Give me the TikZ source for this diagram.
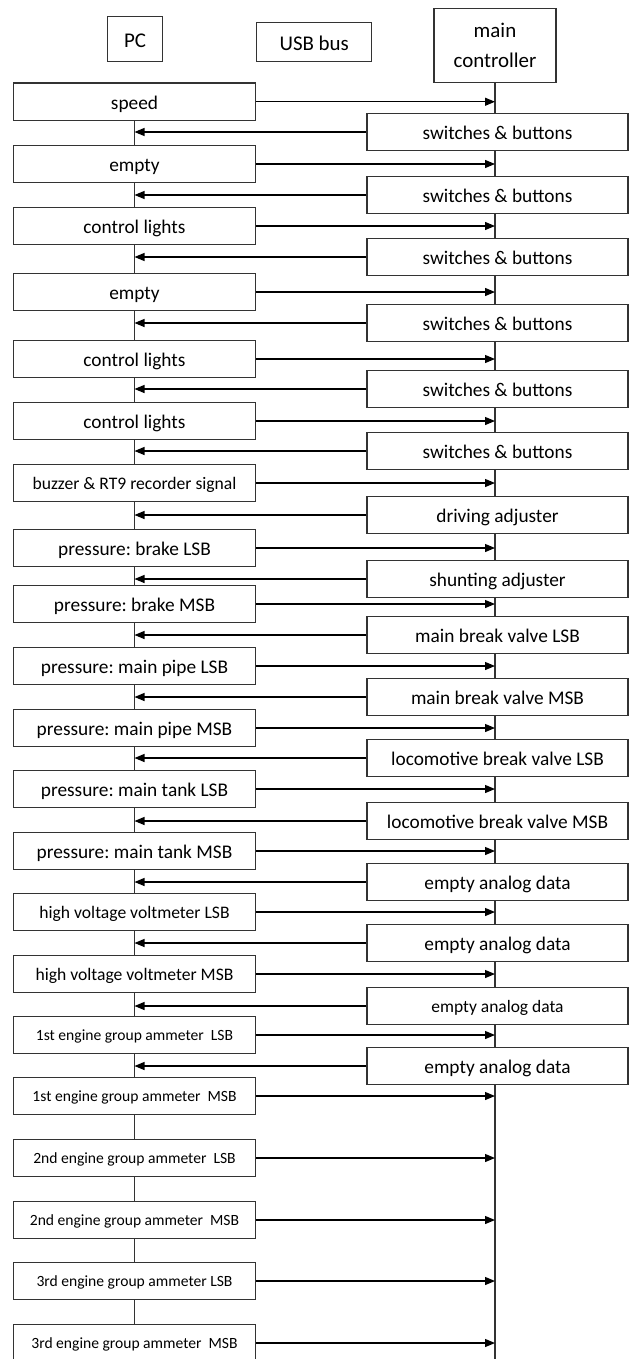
\documentclass[tikz,border=0pt]{standalone}
\usepackage{fontspec}
\setmainfont{Carlito}
\frenchspacing
\usetikzlibrary{arrows.meta,backgrounds}

\begin{document}
\begin{tikzpicture}[x=.75pt,y=-.75pt,
  box/.style={draw=black!80,fill=white,line width=.9pt,inner sep=0pt,
    minimum height=28pt,font=\fontsize{14.5}{16}\selectfont,
    text height=10.9pt,text depth=0pt},
  pcbox/.style={box,minimum width=181.5pt},
  mcbox/.style={box,minimum width=195.75pt},
  smalltext/.style={font=\fontsize{13.2}{15}\selectfont,text height=9.9pt},
  enginetext/.style={font=\fontsize{11.7}{14}\selectfont,text height=8.8pt},
  head/.style={box,font=\fontsize{15.7}{22}\selectfont,align=center,text height=11.8pt},
  msg/.style={-{Triangle[length=7.5pt,width=6pt]},line width=.9pt},
  life/.style={line width=.9pt,draw=black!80}]
\useasboundingbox (0,0) rectangle (629,1359);

% heads
\node[head,minimum width=41.25pt,minimum height=33.75pt] (pc) at (135,39.2) {PC};
\node[head,minimum width=86.25pt,minimum height=29.25pt] (usb) at (314.25,42.2) {USB bus};
\node[head,minimum width=91.5pt,minimum height=55.5pt,text height=,text depth=] (mc) at (495,45.3) {main\\controller};
\coordinate (mcend) at (495,1359);

% PC side
\node[pcbox] (l1) at (134.5,101.75) {speed};
\node[pcbox] (l2) at (134.5,164) {empty};
\node[pcbox] (l3) at (134.5,226) {control lights};
\node[pcbox] (l4) at (134.5,292) {empty};
\node[pcbox] (l5) at (134.5,359) {control lights};
\node[pcbox] (l6) at (134.5,421) {control lights};
\node[pcbox,smalltext] (l7) at (134.5,483) {buzzer \& RT9 recorder signal};
\node[pcbox] (l8) at (134.5,548) {pressure: brake LSB};
\node[pcbox] (l9) at (134.5,604) {pressure: brake MSB};
\node[pcbox] (l10) at (134.5,666) {pressure: main pipe LSB};
\node[pcbox] (l11) at (134.5,728) {pressure: main pipe MSB};
\node[pcbox] (l12) at (134.5,789) {pressure: main tank LSB};
\node[pcbox] (l13) at (134.5,851) {pressure: main tank MSB};
\node[pcbox,smalltext] (l14) at (134.5,912) {high voltage voltmeter LSB};
\node[pcbox,smalltext] (l15) at (134.5,974) {high voltage voltmeter MSB};
\node[pcbox,enginetext] (l16) at (134.5,1035) {1st engine group ammeter\ \ LSB};
\node[pcbox,enginetext] (l17) at (134.5,1096) {1st engine group ammeter\ \ MSB};
\node[pcbox,enginetext] (l18) at (134.5,1158) {2nd engine group ammeter\ \ LSB};
\node[pcbox,enginetext] (l19) at (134.5,1220) {2nd engine group ammeter\ \ MSB};
\node[pcbox,enginetext] (l20) at (134.5,1281) {3rd engine group ammeter LSB};
\node[pcbox,enginetext] (l21) at (134.5,1343) {3rd engine group ammeter\ \ MSB};

% controller side
\node[mcbox] (r1) at (497.5,132) {switches \& buttons};
\node[mcbox] (r2) at (497.5,195) {switches \& buttons};
\node[mcbox] (r3) at (497.5,257) {switches \& buttons};
\node[mcbox] (r4) at (497.5,323) {switches \& buttons};
\node[mcbox] (r5) at (497.5,389) {switches \& buttons};
\node[mcbox] (r6) at (497.5,451) {switches \& buttons};
\node[mcbox] (r7) at (497.5,515) {driving adjuster};
\node[mcbox] (r8) at (497.5,579) {shunting adjuster};
\node[mcbox] (r9) at (497.5,635) {main break valve LSB};
\node[mcbox] (r10) at (497.5,697) {main break valve MSB};
\node[mcbox] (r11) at (497.5,758) {locomotive break valve LSB};
\node[mcbox] (r12) at (497.5,821) {locomotive break valve MSB};
\node[mcbox] (r13) at (497.5,882) {empty analog data};
\node[mcbox] (r14) at (497.5,943) {empty analog data};
\node[mcbox,font=\fontsize{13.1}{15}\selectfont,text height=9.8pt] (r15) at (497.5,1006) {empty analog data};
\node[mcbox] (r16) at (497.5,1066) {empty analog data};

% lifelines
\begin{pgfonlayer}{background}
\draw[life] (l1) -- (l21);
\draw[life] (mc.south) -- (mcend);
\end{pgfonlayer}

% messages to controller
\draw[msg] (l1.east) -- (l1.east -| mc.south);
\draw[msg] (l2.east) -- (l2.east -| mc.south);
\draw[msg] (l3.east) -- (l3.east -| mc.south);
\draw[msg] (l4.east) -- (l4.east -| mc.south);
\draw[msg] (l5.east) -- (l5.east -| mc.south);
\draw[msg] (l6.east) -- (l6.east -| mc.south);
\draw[msg] (l7.east) -- (l7.east -| mc.south);
\draw[msg] (l8.east) -- (l8.east -| mc.south);
\draw[msg] (l9.east) -- (l9.east -| mc.south);
\draw[msg] (l10.east) -- (l10.east -| mc.south);
\draw[msg] (l11.east) -- (l11.east -| mc.south);
\draw[msg] (l12.east) -- (l12.east -| mc.south);
\draw[msg] (l13.east) -- (l13.east -| mc.south);
\draw[msg] (l14.east) -- (l14.east -| mc.south);
\draw[msg] (l15.east) -- (l15.east -| mc.south);
\draw[msg] (l16.east) -- (l16.east -| mc.south);
\draw[msg] (l17.east) -- (l17.east -| mc.south);
\draw[msg] (l18.east) -- (l18.east -| mc.south);
\draw[msg] (l19.east) -- (l19.east -| mc.south);
\draw[msg] (l20.east) -- (l20.east -| mc.south);
\draw[msg] (l21.east) -- (l21.east -| mc.south);

% messages to PC
\draw[msg] (r1.west) -- (r1.west -| l1.south);
\draw[msg] (r2.west) -- (r2.west -| l1.south);
\draw[msg] (r3.west) -- (r3.west -| l1.south);
\draw[msg] (r4.west) -- (r4.west -| l1.south);
\draw[msg] (r5.west) -- (r5.west -| l1.south);
\draw[msg] (r6.west) -- (r6.west -| l1.south);
\draw[msg] (r7.west) -- (r7.west -| l1.south);
\draw[msg] (r8.west) -- (r8.west -| l1.south);
\draw[msg] (r9.west) -- (r9.west -| l1.south);
\draw[msg] (r10.west) -- (r10.west -| l1.south);
\draw[msg] (r11.west) -- (r11.west -| l1.south);
\draw[msg] (r12.west) -- (r12.west -| l1.south);
\draw[msg] (r13.west) -- (r13.west -| l1.south);
\draw[msg] (r14.west) -- (r14.west -| l1.south);
\draw[msg] (r15.west) -- (r15.west -| l1.south);
\draw[msg] (r16.west) -- (r16.west -| l1.south);
\end{tikzpicture}
\end{document}
